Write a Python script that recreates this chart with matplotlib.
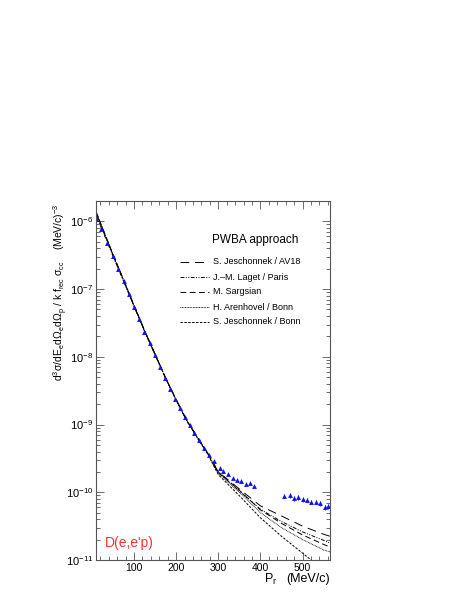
import numpy as np
import matplotlib.pyplot as plt

plt.rcParams['font.family'] = ['Liberation Sans', 'DejaVu Sans']
plt.rcParams['mathtext.fontset'] = 'custom'
plt.rcParams['mathtext.rm'] = 'Liberation Sans'
plt.rcParams['mathtext.it'] = 'Liberation Sans'

# measured reduced cross section (blue triangles)
p_data = [9, 21, 35, 50, 62, 76, 88, 100, 112, 125, 139, 149, 161, 173, 185,
          197, 209, 221, 233, 243, 255, 267, 279, 291,
          303, 312, 322, 334, 344, 353, 365, 375, 385,
          457, 469, 479, 488, 500, 510, 520, 532, 541, 553, 560]
sig_data = [1.07e-6, 7.6e-7, 4.8e-7, 3.1e-7, 2.0e-7, 1.3e-7, 8.4e-8, 5.45e-8,
            3.63e-8, 2.36e-8, 1.58e-8, 1.06e-8, 7.05e-9, 4.9e-9, 3.38e-9,
            2.42e-9, 1.73e-9, 1.28e-9, 9.8e-10, 7.5e-10, 5.9e-10, 4.5e-10, 3.6e-10, 2.94e-10,
            2.28e-10, 2.06e-10, 1.85e-10, 1.62e-10, 1.51e-10, 1.46e-10, 1.32e-10, 1.37e-10, 1.23e-10,
            8.8e-11, 9.1e-11, 8.2e-11, 8.5e-11, 7.9e-11, 7.7e-11, 7.2e-11, 7.2e-11, 6.9e-11, 6.05e-11, 6.25e-11]
err_data = [0.03 * s for s in sig_data[:33]] + [0.08 * s for s in sig_data[33:]]

# PWBA model curves
p_th = [10, 25, 50, 75, 100, 125, 150, 175, 200, 225, 250, 275, 300,
        350, 400, 450, 500, 550, 565]
av18 = [1.35e-6, 7.94e-7, 3.24e-7, 1.38e-7, 5.75e-8, 2.45e-8, 1.10e-8, 4.9e-9, 2.34e-9,
        1.17e-9, 6.6e-10, 3.8e-10, 2.0e-10, 1.12e-10, 6.3e-11, 4.47e-11, 3.16e-11, 2.4e-11, 2.24e-11]
laget = [1.2e-6, 7.4e-7, 3.1e-7, 1.32e-7, 5.6e-8, 2.4e-8, 1.07e-8, 4.8e-9, 2.3e-9,
         1.15e-9, 6.45e-10, 3.7e-10, 1.95e-10, 1.05e-10, 5.6e-11, 3.7e-11, 2.6e-11, 1.95e-11, 1.78e-11]
sargsian = [1.4e-6, 8.1e-7, 3.3e-7, 1.4e-7, 5.8e-8, 2.47e-8, 1.1e-8, 4.9e-9, 2.34e-9,
            1.17e-9, 6.6e-10, 3.8e-10, 2.0e-10, 1.07e-10, 5.5e-11, 3.47e-11, 2.34e-11, 1.7e-11, 1.55e-11]
arenhovel = [1.3e-6, 7.8e-7, 3.2e-7, 1.36e-7, 5.7e-8, 2.43e-8, 1.09e-8, 4.85e-9, 2.32e-9,
             1.15e-9, 6.5e-10, 3.7e-10, 1.9e-10, 1.0e-10, 5.0e-11, 3.0e-11, 2.0e-11, 1.41e-11, 1.32e-11]
jesch_bonn = [1.38e-6, 8.0e-7, 3.25e-7, 1.37e-7, 5.7e-8, 2.43e-8, 1.09e-8, 4.85e-9, 2.3e-9,
              1.14e-9, 6.4e-10, 3.65e-10, 1.82e-10, 8.9e-11, 4.2e-11, 2.24e-11, 1.26e-11, 7.1e-12, 6.3e-12]

labels = ['S. Jeschonnek / AV18', 'J.\u2013M. Laget / Paris', 'M. Sargsian',
          'H. Arenhovel / Bonn', 'S. Jeschonnek / Bonn']
models = [av18, laget, sargsian, arenhovel, jesch_bonn]
styles = [(0, (9, 6)), (0, (4, 1.5, 1, 1.5, 1, 1.5)), (0, (6, 3.5)), (0, (0.8, 0.8)), (0, (2.5, 1.5))]

fig = plt.figure(figsize=(4.6, 5.95), dpi=100)
ax = fig.add_axes([96 / 460, 35 / 595, 234 / 460, 359 / 595])

for y, ls in zip(models, styles):
    ax.plot(p_th, y, color='black', lw=0.7, linestyle=ls)

ax.errorbar(p_data, sig_data, yerr=err_data, fmt='^', color='#1010ff', ms=3.5,
            elinewidth=0.6, capsize=0, mew=0)

ax.set_yscale('log')
ax.set_xlim(10, 565)
ax.set_ylim(1e-11, 2e-6)
ax.set_xticks([100, 200, 300, 400, 500])
ax.set_xticks(np.arange(20, 565, 20), minor=True)

for s in ax.spines.values():
    s.set_color('#555555')
    s.set_linewidth(0.8)
ax.tick_params(which='both', direction='in', top=True, right=True, colors='#555555',
               labelcolor='black', width=0.6)
ax.tick_params(axis='x', labelsize=7.5, pad=2)
ax.tick_params(axis='y', labelsize=8, pad=2)
ax.tick_params(which='major', length=6)
ax.tick_params(which='minor', length=3)

# legend drawn by hand, ROOT-style
fig.text(255 / 460, 1 - 240 / 595, 'PWBA approach', fontsize=8.5, ha='center', va='center')
row_y = [262, 277, 292, 307, 322]
for ry, ls, lab in zip(row_y, styles, labels):
    fy = 1 - ry / 595
    fig.add_artist(plt.Line2D([180 / 460, 209 / 460], [fy, fy], color='black', lw=0.7,
                              linestyle=ls, transform=fig.transFigure))
    fig.text(213 / 460, fy, lab, fontsize=6.5, ha='left', va='center')

fig.text(129 / 460, 1 - 543 / 595, "D(e,e'p)", color='#ff3030', fontsize=10, ha='center', va='center')

fig.text(264 / 460, 1 - 579 / 595, r'P$_{\rm r}$', fontsize=9, ha='left', va='center')
fig.text(330 / 460, 1 - 579 / 595, '(MeV/c)', fontsize=9, ha='right', va='center')
fig.text(61 / 460, 1 - 292 / 595,
         r'd$^3\sigma$/dE$_{\rm e}$d$\Omega_{\rm e}$d$\Omega_{\rm p}$ / k f$_{\rm rec}$ $\sigma_{\rm cc}$    (MeV/c)$^{-3}$',
         fontsize=7.5, rotation=90, ha='center', va='center')

fig.savefig('out.png', dpi=100)
